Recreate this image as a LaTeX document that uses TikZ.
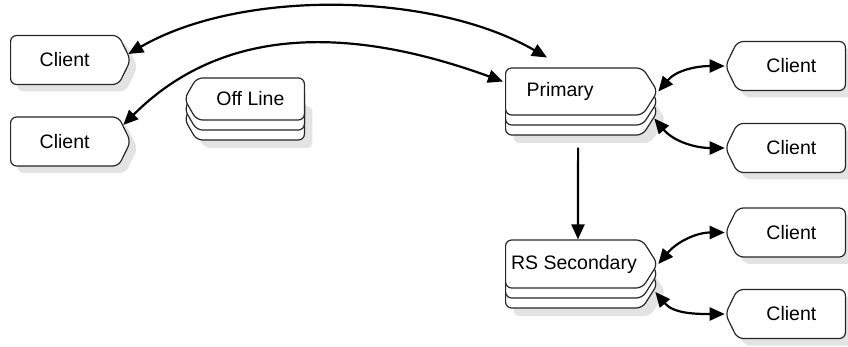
\documentclass[tikz,border=0pt]{standalone}
\usepackage{fontspec}
\setmainfont{Liberation Sans}
\usetikzlibrary{shapes.symbols,arrows.meta,shadows}

\begin{document}
\begin{tikzpicture}[
    x=1pt, y=1pt,
    >={Triangle[length=15pt,width=13pt]},
    box/.style={shape=signal, draw=black!85, line width=1.2pt, fill=white, rounded corners=6pt,
        inner sep=0pt, font=\fontsize{19.5}{23}\selectfont},
    flat/.style={box, drop shadow={shadow xshift=7pt, shadow yshift=-7pt, fill=black!11, opacity=1}},
    stack/.style={box,
        drop shadow={shadow xshift=8pt, shadow yshift=-28pt, fill=black!11, opacity=1},
        copy shadow={shadow xshift=0pt, shadow yshift=-20pt, draw=black!85, line width=1.2pt, fill=white},
        copy shadow={shadow xshift=0pt, shadow yshift=-10pt, draw=black!85, line width=1.2pt, fill=white}},
    client/.style={flat, minimum width=120pt, minimum height=49pt, signal pointer angle=128},
    arrow/.style={<->, line width=2.2pt}
]

\useasboundingbox (0,0) rectangle (848,-347);

% clients on the left
\node[client, signal to=east, anchor=west] (cl1) at (10,-60) {Client};
\node[client, signal to=east, anchor=west] (cl2) at (10,-141.5) {Client};

% servers
\node[stack, signal to=west, anchor=east, minimum width=120pt, minimum height=42pt, signal pointer angle=120] (off) at (305,-99) {Off Line};
\node[stack, signal to=east, anchor=west, minimum width=152pt, minimum height=47pt, signal pointer angle=115] (prim) at (505,-91.5) {Primary\hspace*{28pt}};
\node[stack, signal to=east, anchor=west, minimum width=152pt, minimum height=48pt, signal pointer angle=115] (sec) at (505,-264) {RS Secondary};

% clients on the right
\node[client, signal to=west, anchor=east] (cr1) at (846,-66) {Client};
\node[client, signal to=west, anchor=east] (cr2) at (846,-148) {Client};
\node[client, signal to=west, anchor=east] (cr3) at (846,-232.5) {Client};
\node[client, signal to=west, anchor=east] (cr4) at (846,-314) {Client};

\draw[arrow] ([shift={(-3,6)}]cl1.east) to[out=30,in=150,looseness=0.8] ([shift={(42,34)}]prim.west);
\draw[arrow] ([shift={(-8,16.5)}]cl2.east) to[out=45,in=160] ([shift={(-2,10)}]prim.west);

\draw[arrow] (prim.east) to[out=50,in=180] (cr1.west);
\draw[arrow] ([shift={(-4,-27)}]prim.east) to[out=-50,in=180] (cr2.west);
\draw[arrow] (sec.east) to[out=50,in=180] (cr3.west);
\draw[arrow] ([shift={(-3,-28)}]sec.east) to[out=-50,in=180] (cr4.west);

\draw[->, line width=2.2pt] ([shift={(4,-32)}]prim.south) -- ([xshift=4pt]sec.north);

\end{tikzpicture}
\end{document}
